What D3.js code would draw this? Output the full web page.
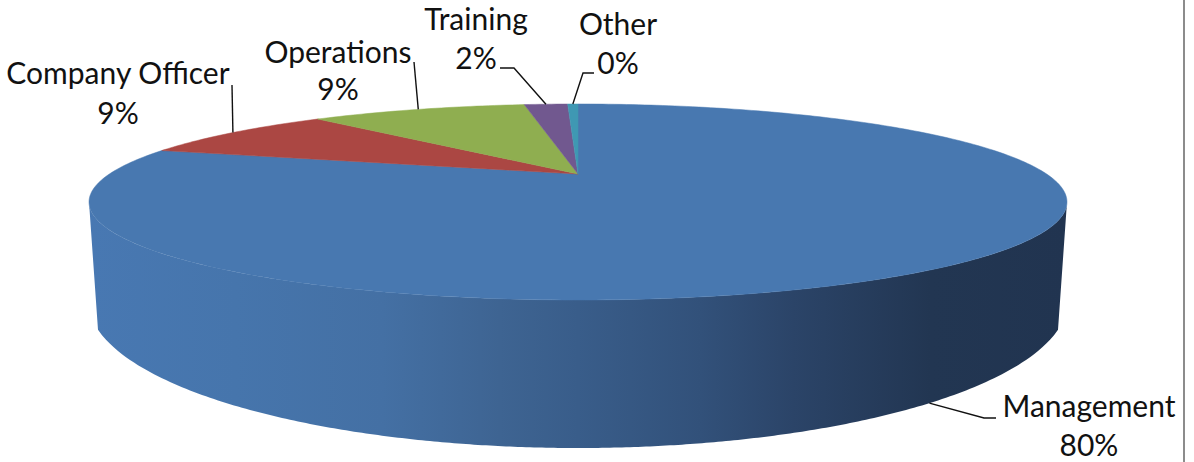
<!DOCTYPE html>
<html>
<head>
<meta charset="utf-8">
<script src="https://cdn.jsdelivr.net/npm/d3@7"></script>
<style>
  html, body { margin: 0; padding: 0; background: #fff; }
  text { font-family: Lato, "Open Sans", sans-serif; font-size: 30px; fill: #111; text-anchor: middle; }
</style>
</head>
<body>
<div id="chart"></div>
<script>
// data (share of the pie, clockwise from 12 o'clock)
const categories = ["Management", "Company Officer", "Operations", "Training", "Other"];
const shares = [79.5, 8.7, 9.4, 1.9, 0.45];
const colors = ["#4878b0", "#ab4743", "#8fae50", "#71588f", "#3f98b3"];

const width = 1194;
const height = 462;

const svg = d3.select("#chart")
    .append("svg")
    .attr("width", width)
    .attr("height", height)
    .style("display", "block");

// Perspective view of the pie: the apex is not at the middle of the ellipse
const cx = 578, apexY = 174;
const topRx = 489, topCy = 202, topRy = 98;
// lower edge of the wall, cut off by the sides at wallHalf
const botRx = 490, botCy = 300, botRy = 148, wallHalf = 480;
const k = -0.2857, A = 468.6, B = 90;

function project(angle, r) {
    const u = r * Math.sin(angle), v = -r * Math.cos(angle);
    const w = 1 + k * v;
    return [cx + A * u / w, apexY + B * v / w];
}

function bottomY(x) {
    const t = (x - cx) / botRx;
    return botCy + botRy * Math.sqrt(1 - t * t);
}

// side wall, dark towards the right
const wallGrad = svg.append("defs").append("linearGradient")
    .attr("id", "wall")
    .attr("gradientUnits", "userSpaceOnUse")
    .attr("x1", 89).attr("x2", 1067).attr("y1", 0).attr("y2", 0);
[[0, "#4878b2"], [0.15, "#4675ac"], [0.3, "#4470a4"], [0.42, "#3e6492"], [0.5, "#395d8a"], [0.625, "#32517a"], [0.72, "#2b4468"], [0.86, "#223652"], [1, "#213450"]]
    .forEach(function (s) {
        wallGrad.append("stop").attr("offset", s[0]).attr("stop-color", s[1]);
    });

const line = d3.line();
const steps = d3.range(0, 181).map(function (i) { return i / 180 * Math.PI; });

const wallPts = steps.map(function (t) {
    return [cx + topRx * Math.cos(t), topCy + topRy * Math.sin(t)];
}).concat(d3.range(-wallHalf, wallHalf + 1, 4).map(function (dx) {
    return [cx + dx, bottomY(cx + dx)];
}));

svg.append("path")
    .attr("d", line(wallPts) + "Z")
    .attr("fill", "url(#wall)");

// top face
const pie = d3.pie().sort(null).value(function (d) { return d; });
const arcs = pie(shares);

function slicePath(d) {
    const n = Math.max(2, Math.ceil((d.endAngle - d.startAngle) * 60));
    const pts = [[cx, apexY]];
    for (let i = 0; i <= n; i++) {
        pts.push(project(d.startAngle + (d.endAngle - d.startAngle) * i / n, 1));
    }
    return line(pts) + "Z";
}

svg.selectAll("path.slice")
    .data(arcs)
    .enter().append("path")
    .attr("class", "slice")
    .attr("d", slicePath)
    .attr("fill", function (d, i) { return colors[i]; })
    .attr("stroke", function (d, i) { return colors[i]; })
    .attr("stroke-width", 0.5);

// leader lines start at the middle of each slice's rim
function anchor(i) {
    const mid = (arcs[i].startAngle + arcs[i].endAngle) / 2;
    const p = project(mid, 1);
    if (i === 0) {
        // management is on the front, so its line ends at the wall's lower edge
        const x = cx + (p[0] - cx) * 0.965;
        return [x, bottomY(x)];
    }
    return p;
}

const elbows = [
    [[984, 418], [996, 418]],
    [[232, 85]],
    [[414, 62]],
    [[514, 68], [500, 68]],
    [[583, 73], [594, 73]]
];

svg.selectAll("path.leader")
    .data(elbows)
    .enter().append("path")
    .attr("class", "leader")
    .attr("d", function (d, i) { return line([anchor(i)].concat(d)); })
    .attr("fill", "none")
    .attr("stroke", "#111")
    .attr("stroke-width", 1.4);

// labels
const labelPos = [
    [1089, 417, 456],
    [118, 84, 124],
    [338, 63, 100],
    [476, 30, 69],
    [618, 35, 74]
];

categories.forEach(function (name, i) {
    const p = labelPos[i];
    svg.append("text").attr("x", p[0]).attr("y", p[1]).text(name);
    svg.append("text").attr("x", p[0]).attr("y", p[2]).text(Math.round(shares[i]) + "%");
});

// frame on the right
svg.append("line")
    .attr("x1", 1184).attr("x2", 1184)
    .attr("y1", 0).attr("y2", height)
    .attr("stroke", "#8c8c8c")
    .attr("stroke-width", 2);
</script>
</body>
</html>
